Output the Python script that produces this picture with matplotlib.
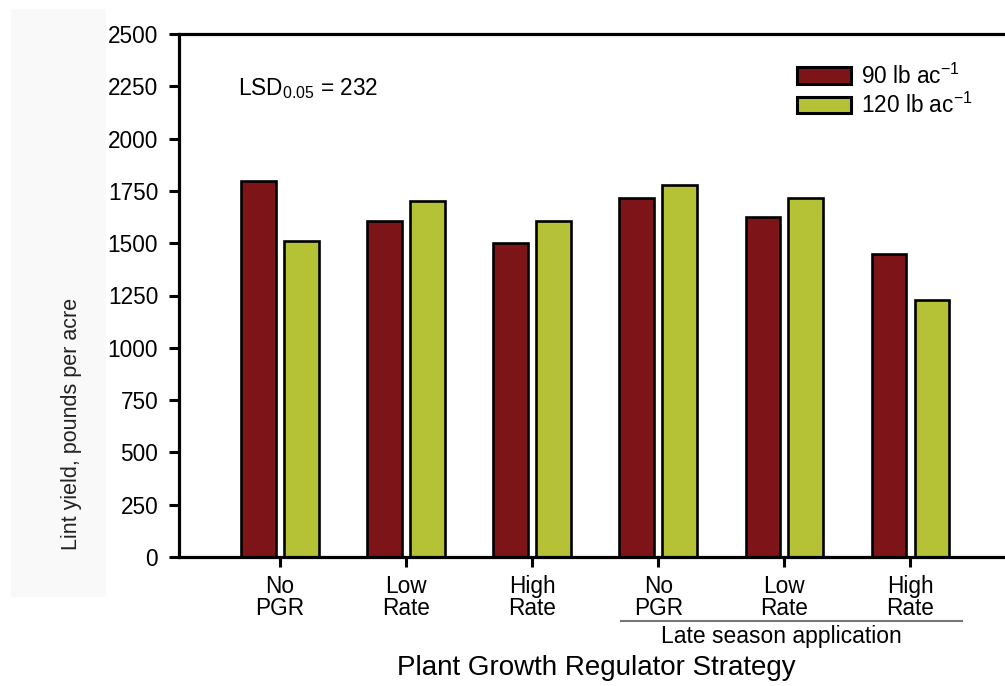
import matplotlib.pyplot as plt
import matplotlib.patches as mpatches
import numpy as np

plt.rcParams['font.family'] = ['Liberation Sans', 'DejaVu Sans']

# Lint yield by PGR strategy and N rate
categories = ['No\nPGR', 'Low\nRate', 'High\nRate', 'No\nPGR', 'Low\nRate', 'High\nRate']
yield_90 = [1795, 1605, 1500, 1715, 1625, 1450]
yield_120 = [1510, 1700, 1605, 1780, 1715, 1230]
y_ticks = [0, 250, 500, 750, 1000, 1250, 1500, 1750, 2000, 2250, 2500]

red = '#7d1518'
green = '#b5c236'

fig = plt.figure(figsize=(10.05, 6.86), dpi=100)
# light panel behind the y label
fig.patches.append(mpatches.Rectangle((11 / 1005, 1 - 597 / 686), 95 / 1005, 588 / 686,
                                      transform=fig.transFigure, facecolor='#f9f9f9',
                                      edgecolor='none', zorder=0))
ax = fig.add_axes([179 / 1005, 1 - 557 / 686, 1 - 179 / 1005, 523 / 686])
ax.patch.set_alpha(0)

x = np.arange(len(categories))
w = 0.275
ax.bar(x - 0.17, yield_90, w, color=red, edgecolor='black', linewidth=1.9,
       label='90 lb ac$^{\\mathregular{-1}}$')
ax.bar(x + 0.17, yield_120, w, color=green, edgecolor='black', linewidth=1.9,
       label='120 lb ac$^{\\mathregular{-1}}$')

ax.set_xlim(-0.80, 5.75)
ax.set_ylim(0, 2500)
ax.set_yticks(y_ticks)
ax.set_xticks(x)
ax.set_xticklabels(categories, fontsize=16.3, linespacing=0.95)
ax.tick_params(axis='y', labelsize=16.3, width=2.2, length=7, direction='out', pad=8)
ax.tick_params(axis='x', width=2.2, length=7, direction='out', pad=6)
for s in ['left', 'top', 'bottom']:
    ax.spines[s].set_linewidth(2.3)
ax.spines['right'].set_visible(False)

ax.text(0.072, 0.895, 'LSD$_{\\mathregular{0.05}}$ = 232', transform=ax.transAxes, fontsize=16.3,
        va='center', ha='left')

leg = ax.legend(loc='upper right', bbox_to_anchor=(0.985, 0.983), frameon=False, fontsize=16.3,
                handlelength=2.35, handleheight=0.72, labelspacing=0.2, handletextpad=0.45)
for h in leg.legend_handles:
    h.set_linewidth(2.2)

# late-season bracket
fig.add_artist(plt.Line2D([621 / 1005, 962 / 1005], [1 - 621 / 686] * 2, color='#777777', lw=1.5))
fig.text(781 / 1005, 1 - 636 / 686, 'Late season application', ha='center', va='center', fontsize=16.5)

fig.text(596 / 1005, 1 - 668 / 686, 'Plant Growth Regulator Strategy', ha='center', va='center', fontsize=20)
fig.text(72 / 1005, 1 - 424 / 686, 'Lint yield, pounds per acre', rotation=90, ha='center', va='center',
         fontsize=15.5, color='#222222')

fig.savefig('out.png', dpi=100)
